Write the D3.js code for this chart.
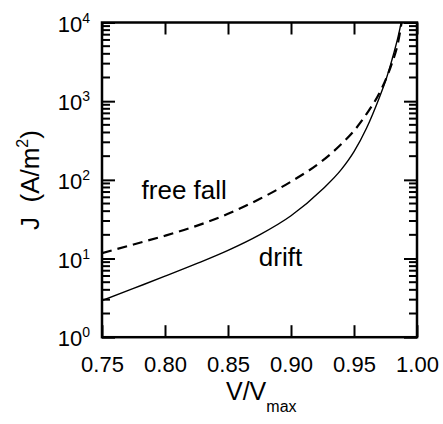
<!DOCTYPE html>
<html>
<head>
    <title>J vs V/Vmax</title>
    <script src="https://d3js.org/d3.v7.min.js"></script>
    <style>
        body { margin: 0; background: #fff; }
        svg text { font-family: "Liberation Sans", Arial, sans-serif; fill: #000; white-space: pre; }
    </style>
</head>
<body>
    <div id="chart"></div>

    <script>
        // data
        var vRatio   = [0.75, 0.775, 0.80, 0.825, 0.85, 0.875, 0.90, 0.925, 0.94, 0.95, 0.96, 0.97, 0.975, 0.98, 0.985, 0.988];
        var drift    = [2.92, 4.17, 5.96, 8.6, 12.7, 20, 35, 76, 136, 229, 457, 1100, 1800, 3300, 6600, 11000];
        var freeFall = [11.7, 15.1, 19.5, 26, 37, 57, 95, 175, 285, 420, 690, 1250, 1850, 3000, 5600, 10500];
        var xTicks = [0.75, 0.80, 0.85, 0.90, 0.95, 1.00];
        var yMajor = [1, 10, 100, 1000, 10000];
        var labels = [
            { text: "free fall", v: 0.7814, j: 57 },
            { text: "drift", v: 0.8745, j: 8.0 }
        ];

        var width = 443, height = 424;
        // plot box ("top" is taken on window, so short names)
        var pl = 102, pr = 417, pt = 22.5, pb = 337.2;

        var svg = d3.select("#chart")
            .append("svg")
            .attr("width", width)
            .attr("height", height);

        var x = d3.scaleLinear().domain([0.75, 1.0]).range([pl, pr]);
        var y = d3.scaleLog().domain([1, 10000]).range([pb, pt]);

        // minor ticks 2..9 per decade
        var yMinor = [];
        yMajor.slice(0, -1).forEach(function(d) {
            for (var k = 2; k <= 9; k++) yMinor.push(d * k);
        });

        svg.append("defs").append("clipPath").attr("id", "clip")
            .append("rect")
            .attr("x", pl).attr("y", pt)
            .attr("width", pr - pl).attr("height", pb - pt);

        // curves
        var line = function(vals) {
            return d3.line()
                .x(function(d, i) { return x(vRatio[i]); })
                .y(function(d) { return y(d); })
                .curve(d3.curveMonotoneX)(vals);
        };

        svg.append("path")
            .attr("d", line(drift))
            .attr("clip-path", "url(#clip)")
            .attr("fill", "none")
            .attr("stroke", "#000")
            .attr("stroke-width", 1.4);

        svg.append("path")
            .attr("d", line(freeFall))
            .attr("clip-path", "url(#clip)")
            .attr("fill", "none")
            .attr("stroke", "#000")
            .attr("stroke-width", 2.2)
            .attr("stroke-dasharray", "10,6");

        // axes, ticks pointing inward
        function styleAxis(g) {
            g.select(".domain").remove();
            g.selectAll(".tick line").attr("stroke", "#000").attr("stroke-width", 2);
        }

        svg.append("g")
            .attr("transform", "translate(0," + pb + ")")
            .call(d3.axisBottom(x).tickValues(xTicks).tickSize(-12).tickPadding(19)
                .tickFormat(d3.format(".2f")))
            .call(styleAxis)
            .selectAll("text").attr("font-size", 22).attr("font-family", "Liberation Sans, Arial, sans-serif");

        svg.append("g")
            .attr("transform", "translate(0," + pt + ")")
            .call(d3.axisTop(x).tickValues(xTicks).tickSize(-12).tickFormat(""))
            .call(styleAxis);

        svg.append("g")
            .attr("transform", "translate(" + pl + ",0)")
            .call(d3.axisLeft(y).tickValues(yMajor).tickSize(-13).tickFormat(""))
            .call(styleAxis);
        svg.append("g")
            .attr("transform", "translate(" + pr + ",0)")
            .call(d3.axisRight(y).tickValues(yMajor).tickSize(-13).tickFormat(""))
            .call(styleAxis);

        // minor ticks on both sides
        var minor = svg.append("g").attr("stroke", "#000").attr("stroke-width", 2);
        minor.selectAll("line.l").data(yMinor).enter().append("line")
            .attr("class", "l")
            .attr("x1", pl).attr("x2", pl + 8)
            .attr("y1", function(d) { return y(d); })
            .attr("y2", function(d) { return y(d); });
        minor.selectAll("line.r").data(yMinor).enter().append("line")
            .attr("class", "r")
            .attr("x1", pr).attr("x2", pr - 8)
            .attr("y1", function(d) { return y(d); })
            .attr("y2", function(d) { return y(d); });

        // y tick labels as 10^n
        var yl = svg.append("g").selectAll("text")
            .data(yMajor)
            .enter().append("text")
            .attr("x", pl - 12)
            .attr("y", function(d) { return y(d) + 9; })
            .attr("text-anchor", "end")
            .attr("font-size", 22);
        yl.append("tspan").text("10");
        yl.append("tspan")
            .attr("font-size", 14)
            .attr("dy", -9)
            .text(function(d) { return Math.round(Math.log10(d)); });

        // frame
        svg.append("rect")
            .attr("x", pl).attr("y", pt)
            .attr("width", pr - pl).attr("height", pb - pt)
            .attr("fill", "none")
            .attr("stroke", "#000")
            .attr("stroke-width", 2.5);

        // curve labels
        svg.append("g").selectAll("text")
            .data(labels)
            .enter().append("text")
            .attr("x", function(d) { return x(d.v); })
            .attr("y", function(d) { return y(d.j); })
            .attr("font-size", 26)
            .text(function(d) { return d.text; });

        // axis titles
        var xt = svg.append("text")
            .attr("x", 226)
            .attr("y", 400)
            .attr("font-size", 25);
        xt.append("tspan").text("V/V");
        xt.append("tspan").attr("font-size", 16).attr("dy", 12).text("max");

        var yt = svg.append("text")
            .attr("transform", "translate(39,180) rotate(-90)")
            .attr("text-anchor", "middle")
            .attr("font-size", 26);
        yt.append("tspan").text("J  (A/m");
        yt.append("tspan").attr("font-size", 16).attr("dy", -11).text("2");
        yt.append("tspan").attr("dy", 11).text(")");
    </script>
</body>
</html>
